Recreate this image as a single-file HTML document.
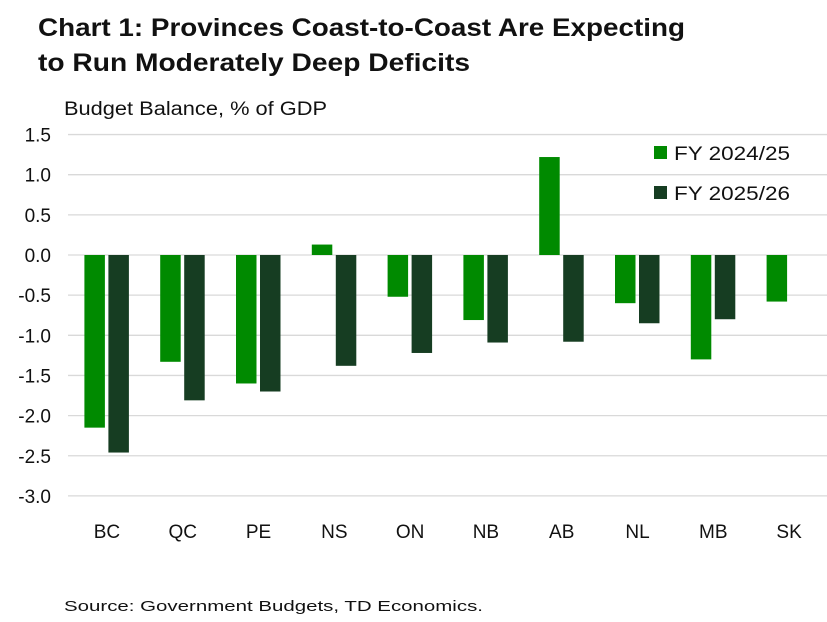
<!DOCTYPE html>
<html><head><meta charset="utf-8"><style>
body{margin:0;background:#fff;font-family:"Liberation Sans",sans-serif;}
svg text{font-family:"Liberation Sans",sans-serif;}
</style></head><body>
<svg id="c" width="827" height="617" xmlns="http://www.w3.org/2000/svg">
<text x="38" y="36" font-size="25" font-weight="bold" fill="#111" textLength="647" lengthAdjust="spacingAndGlyphs">Chart 1: Provinces Coast-to-Coast Are Expecting</text>
<text x="38" y="71" font-size="25" font-weight="bold" fill="#111" textLength="432" lengthAdjust="spacingAndGlyphs">to Run Moderately Deep Deficits</text>
<text x="64" y="115" font-size="19" fill="#111" textLength="263" lengthAdjust="spacingAndGlyphs">Budget Balance, % of GDP</text>
<text x="64" y="611" font-size="15" fill="#111" textLength="419" lengthAdjust="spacingAndGlyphs">Source: Government Budgets, TD Economics.</text>
<g id="grid"></g><g id="bars"></g><g id="labels"></g>
<g>
<rect x="654" y="146" width="13" height="13" fill="#008a00"/>
<text x="674" y="160" font-size="19" fill="#111" textLength="116" lengthAdjust="spacingAndGlyphs">FY 2024/25</text>
<rect x="654" y="186" width="13" height="13" fill="#163d22"/>
<text x="674" y="200" font-size="19" fill="#111" textLength="116" lengthAdjust="spacingAndGlyphs">FY 2025/26</text>
</g>
</svg>
<script>
const categories=["BC","QC","PE","NS","ON","NB","AB","NL","MB","SK"];
const fy2425=[-2.15,-1.33,-1.6,0.13,-0.52,-0.81,1.22,-0.6,-1.3,-0.58];
const fy2526=[-2.46,-1.81,-1.7,-1.38,-1.22,-1.09,-1.08,-0.85,-0.8,null];
const yTicks=[1.5,1.0,0.5,0.0,-0.5,-1.0,-1.5,-2.0,-2.5,-3.0];
const NS="http://www.w3.org/2000/svg";
const y0=255,scale=80.3;
const y=v=>y0-v*scale;
const x0=69,step=75.8;
const xc=i=>x0+step*(i+0.5);
function mk(tag,attrs,parent){const e=document.createElementNS(NS,tag);for(const k in attrs)e.setAttribute(k,attrs[k]);document.getElementById(parent).appendChild(e);return e;}
yTicks.forEach(t=>{
  const l=mk('line',{x1:68,x2:827,y1:y(t),y2:y(t),stroke:'#d9d9d9','stroke-width':1.3},'grid');
  
  
  const tx=mk('text',{x:51,y:y(t)+7,'font-size':19,fill:'#111','text-anchor':'end'},'labels');
  tx.textContent=t.toFixed(1);
  
  
});
categories.forEach((c,i)=>{
  const tx=mk('text',{x:xc(i),y:538,'font-size':19,fill:'#111','text-anchor':'middle'},'labels');
  tx.textContent=c;
  
  
  [[fy2425[i],'#008a00',-22.5],[fy2526[i],'#163d22',1.5]].forEach(([v,col,off],s)=>{
    if(v===null)return;
    const top=Math.min(y(v),y0),h=Math.abs(y(v)-y0);
    const r=mk('rect',{x:xc(i)+off,y:top,width:20.5,height:h,fill:col},'bars');
    
    
  });
});
</script>
</body></html>
